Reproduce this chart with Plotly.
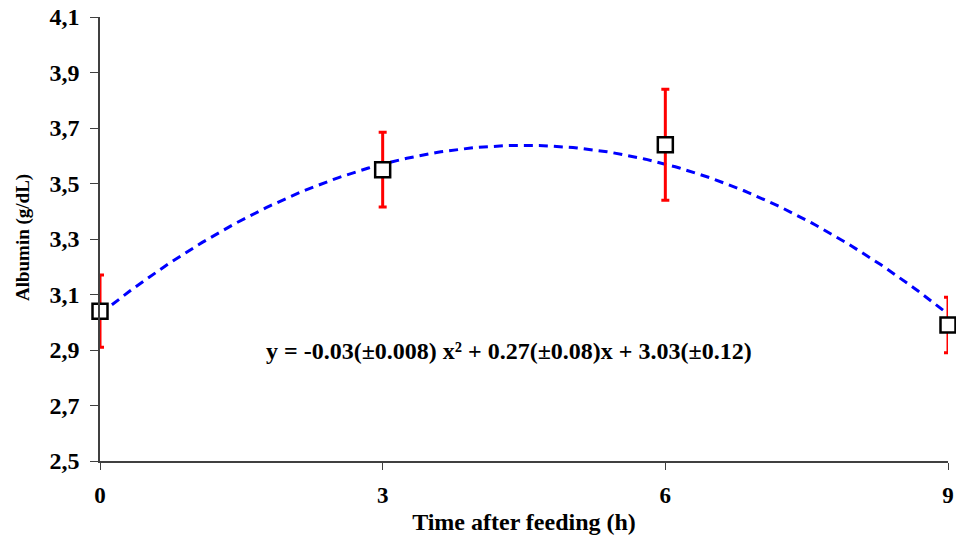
import numpy as np
import plotly.graph_objects as go

# Data
time_h = [0, 3, 6, 9]
albumin = [3.04, 3.55, 3.64, 2.99]
albumin_err = [0.13, 0.135, 0.20, 0.10]
fit_coef = [-0.03, 0.27, 3.03]  # quadratic trend: a*x^2 + b*x + c
y_ticks = [2.5, 2.7, 2.9, 3.1, 3.3, 3.5, 3.7, 3.9, 4.1]
y_tick_text = ["2,5", "2,7", "2,9", "3,1", "3,3", "3,5", "3,7", "3,9", "4,1"]
x_ticks = [0, 3, 6, 9]
equation = "y = -0.03(±0.008) x² + 0.27(±0.08)x + 3.03(±0.12)"
x_title = "Time after feeding (h)"
y_title = "Albumin (g/dL)"

xs = np.linspace(min(time_h), max(time_h), 200)
ys = np.polyval(fit_coef, xs)

FONT = "Liberation Serif"

fig = go.Figure()
fig.add_trace(go.Scatter(
    x=xs, y=ys, mode="lines",
    line=dict(color="#0000ff", width=3, dash="9px,6px"),
    hoverinfo="skip", showlegend=False, cliponaxis=False,
))
fig.add_trace(go.Scatter(
    x=time_h, y=albumin, mode="markers",
    marker=dict(symbol="square", size=15, color="white",
                line=dict(color="black", width=2.5)),
    error_y=dict(type="data", array=albumin_err, visible=True,
                 color="#ff0000", thickness=3, width=4),
    showlegend=False, cliponaxis=False,
))

fig.add_annotation(
    x=4.34, y=2.896, xref="x", yref="y", text="<b>" + equation + "</b>",
    showarrow=False,
    font=dict(family=FONT, size=24, color="black"),
)
fig.add_annotation(
    x=-0.091, y=0.504, xref="paper", yref="paper", text="<b>" + y_title + "</b>",
    textangle=-90, showarrow=False, xanchor="center", yanchor="middle",
    font=dict(family=FONT, size=19, color="black"),
)

fig.update_layout(
    width=956, height=535,
    margin=dict(l=100, r=8, t=17, b=74),
    plot_bgcolor="white", paper_bgcolor="white",
    font=dict(family=FONT, color="black"),
    xaxis=dict(
        range=[0, 9], tickvals=x_ticks, ticks="outside", ticklen=7,
        tickwidth=1.2, tickcolor="#404040", automargin=False,
        showline=True, linecolor="#404040", linewidth=1.5,
        showgrid=False, zeroline=False, ticklabelstandoff=6,
        tickfont=dict(family=FONT, size=23, color="black", weight="bold"),
        title=dict(text="<b>" + x_title + "</b>", standoff=9,
                   font=dict(family=FONT, size=24, color="black")),
    ),
    yaxis=dict(
        range=[2.5, 4.1], tickvals=y_ticks,
        ticktext=[t + "\u00a0" for t in y_tick_text],
        ticks="outside", ticklen=8, tickwidth=1.2, tickcolor="#404040",
        automargin=False,
        showline=True, linecolor="#404040", linewidth=1.5,
        showgrid=False, zeroline=False,
        tickfont=dict(family=FONT, size=24, color="black", weight="bold"),
    ),
)

fig.write_html("out.html")
